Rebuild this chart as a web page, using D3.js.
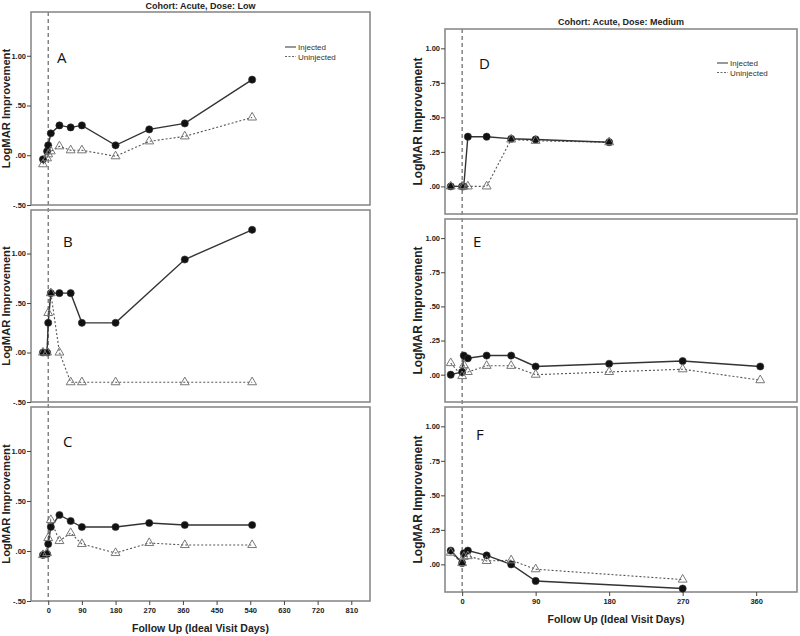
<!DOCTYPE html>
<html><head><meta charset="utf-8">
<script src="https://cdn.jsdelivr.net/npm/d3@7"></script>
<style>
body{margin:0;background:#fff;}
svg{display:block;font-family:"Liberation Sans",Arial,sans-serif;}
</style></head>
<body><svg id="c" width="800" height="636"></svg>
<script>
// ---- data ----
const daysLeft = [-14, -3, 0, 7, 30, 60, 90, 180, 270, 365, 545];
const daysRight = [-14, 0, 2, 7, 30, 60, 90, 180, 270, 365];

const injA = [-0.04, 0.04, 0.10, 0.22, 0.30, 0.28, 0.30, 0.10, 0.26, 0.32, 0.76];
const uninjA = [-0.09, -0.03, 0.01, 0.04, 0.09, 0.05, 0.05, -0.01, 0.14, 0.19, 0.38];
const injB = [0.00, 0.00, 0.30, 0.60, 0.60, 0.60, 0.30, 0.30, null, 0.94, 1.24];
const uninjB = [0.00, 0.00, 0.40, 0.60, 0.00, -0.30, -0.30, -0.30, null, -0.30, -0.30];
const injC = [-0.04, -0.03, 0.07, 0.24, 0.36, 0.30, 0.24, 0.24, 0.28, 0.26, 0.26];
const uninjC = [-0.04, -0.02, 0.13, 0.31, 0.10, 0.18, 0.07, -0.02, 0.08, 0.06, 0.06];

const injD = [0.00, 0.00, 0.00, 0.36, 0.36, 0.345, 0.34, 0.32, null, null];
const uninjD = [0.00, 0.00, 0.00, 0.00, 0.00, 0.34, 0.33, 0.32, null, null];
const injE = [0.00, 0.02, 0.14, 0.12, 0.14, 0.14, 0.06, 0.08, 0.10, 0.06];
const uninjE = [0.085, -0.01, 0.07, 0.02, 0.065, 0.065, 0.00, 0.02, 0.04, -0.04];
const injF = [0.10, 0.01, 0.08, 0.10, 0.065, 0.00, -0.12, null, -0.175, null];
const uninjF = [0.085, 0.01, 0.055, 0.06, 0.025, 0.03, -0.035, null, -0.11, null];

const leftYTicks = [-0.5, 0, 0.5, 1.0];
const rightYTicks = [0, 0.25, 0.5, 0.75, 1.0];
const leftXTicks = [0, 90, 180, 270, 360, 450, 540, 630, 720, 810];
const rightXTicks = [0, 90, 180, 270, 360];
const seriesNames = ["Injected", "Uninjected"];
const titles = ["Cohort: Acute, Dose: Low", "Cohort: Acute, Dose: Medium"];
const letters = ["A", "B", "C", "D", "E", "F"];

// ---- layout ----
const svg = d3.select("#c");
const fmt = v => {
  if (v === 0) return ".00";
  const s = Math.abs(v).toFixed(2).replace(/^0/, "");
  return (v < 0 ? "-" : "") + s;
};

const cols = [
  { x0: 31, x1: 370, xDomain: [-46, 860], yDomain: [-0.5, 1.44], yTicks: leftYTicks, xTicks: leftXTicks,
    days: daysLeft, panels: [[12, 205], [210, 402], [407, 601]],
    data: [[injA, uninjA], [injB, uninjB], [injC, uninjC]],
    title: titles[0], titleY: 9, labelX: 10, labelSize: 11.2, xLabelY: 632, xTickY: 614,
    legend: { x: 285, y: 47 }, letterPos: [[57, 63], [63, 247], [63, 447]] },
  { x0: 445, x1: 797, xDomain: [-21, 410], yDomain: [-0.2, 1.14], yTicks: rightYTicks, xTicks: rightXTicks,
    days: daysRight, panels: [[29, 214], [219, 402], [407, 592]],
    data: [[injD, uninjD], [injE, uninjE], [injF, uninjF]],
    title: titles[1], titleY: 25, labelX: 422, labelSize: 12, xLabelY: 623, xTickY: 605,
    legend: { x: 717, y: 63 }, letterPos: [[479, 69], [473, 247], [476, 440]] }
];

cols.forEach((col, ci) => {
  const x = d3.scaleLinear().domain(col.xDomain).range([col.x0, col.x1]);
  // title
  svg.append("text").attr("x", (col.x0 + col.x1) / 2).attr("y", col.titleY)
    .attr("text-anchor", "middle").attr("font-size", 9).attr("font-weight", "bold")
    .attr("fill", "#222").text(col.title);

  // vertical dashed line at day 0
  svg.append("line").attr("x1", x(0)).attr("x2", x(0))
    .attr("y1", col.panels[0][0]).attr("y2", col.panels[2][1])
    .attr("stroke", "#666").attr("stroke-width", 1.2).attr("stroke-dasharray", "4,3");

  col.panels.forEach((p, pi) => {
    const y = d3.scaleLinear().domain(col.yDomain).range([p[1], p[0]]);
    const g = svg.append("g");
    // frame
    g.append("rect").attr("x", col.x0).attr("y", p[0]).attr("width", col.x1 - col.x0)
      .attr("height", p[1] - p[0]).attr("fill", "none").attr("stroke", "#8a8a8a").attr("stroke-width", 1.6);
    // y axis
    const yAxis = d3.axisLeft(y).tickValues(col.yTicks).tickFormat(fmt).tickSize(4).tickPadding(1);
    const ya = g.append("g").attr("transform", `translate(${col.x0},0)`).call(yAxis);
    ya.select(".domain").remove();
    ya.selectAll("line").attr("stroke", "#444");
    ya.selectAll("text").attr("font-size", 7.5).attr("font-weight", "bold").attr("fill", "#222")
      .attr("font-family", "'Liberation Sans Narrow','Liberation Sans',Arial,sans-serif");
    // y label
    g.append("text").attr("transform", `translate(${col.labelX},${(p[0] + p[1]) / 2}) rotate(-90)`)
      .attr("text-anchor", "middle").attr("font-size", col.labelSize).attr("font-weight", "bold").attr("fill", "#222")
      .text("LogMAR Improvement");
    // x axis for last panel
    if (pi === 2) {
      const xAxis = d3.axisBottom(x).tickValues(col.xTicks).tickFormat(d3.format("d")).tickSize(4).tickPadding(3);
      const xa = g.append("g").attr("transform", `translate(0,${p[1]})`).call(xAxis);
      xa.select(".domain").remove();
      xa.selectAll("line").attr("stroke", "#444");
      xa.selectAll("text").attr("font-size", 7.5).attr("font-weight", "bold").attr("fill", "#222")
        .attr("font-family", "'Liberation Sans Narrow','Liberation Sans',Arial,sans-serif");
      svg.append("text").attr("x", (col.x0 + col.x1) / 2 + (ci === 0 ? 0 : -5)).attr("y", col.xLabelY)
        .attr("text-anchor", "middle").attr("font-size", 10.5).attr("font-weight", "bold").attr("fill", "#222")
        .text("Follow Up (Ideal Visit Days)");
    }
    // letter
    g.append("text").attr("x", col.letterPos[pi][0]).attr("y", col.letterPos[pi][1])
      .attr("font-size", 15).attr("font-family", "'Open Sans',sans-serif").attr("fill", "#111")
      .text(letters[ci * 3 + pi]);

    const [inj, uninj] = col.data[pi];
    const pts = arr => col.days.map((d, i) => ({ d, v: arr[i] })).filter(o => o.v !== null);
    const line = d3.line().x(o => x(o.d)).y(o => y(o.v));
    // uninjected line
    g.append("path").datum(pts(uninj)).attr("d", line).attr("fill", "none")
      .attr("stroke", "#555").attr("stroke-width", 1.1).attr("stroke-dasharray", "2,2");
    // injected line
    g.append("path").datum(pts(inj)).attr("d", line).attr("fill", "none")
      .attr("stroke", "#333").attr("stroke-width", 1.4);
    // injected markers
    g.selectAll(".ci").data(pts(inj)).join("circle")
      .attr("cx", o => x(o.d)).attr("cy", o => y(o.v)).attr("r", 3.6)
      .attr("fill", "#111").attr("stroke", "#333").attr("stroke-width", 0.6);
    // uninjected markers
    const tri = d3.symbol().type(d3.symbolTriangle).size(34);
    g.selectAll(".tu").data(pts(uninj)).join("path")
      .attr("transform", o => `translate(${x(o.d)},${y(o.v)})`).attr("d", tri)
      .attr("fill", "none").attr("stroke", "#777").attr("stroke-width", 1);
  });

  // legend
  const lg = svg.append("g");
  seriesNames.forEach((n, i) => {
    const yy = col.legend.y + i * 9.5;
    lg.append("line").attr("x1", col.legend.x).attr("x2", col.legend.x + 11)
      .attr("y1", yy).attr("y2", yy).attr("stroke", i === 0 ? "#333" : "#666")
      .attr("stroke-width", 1).attr("stroke-dasharray", i === 0 ? null : "2,1.5");
    lg.append("text").attr("x", col.legend.x + 13).attr("y", yy + 3)
      .attr("font-size", 8).attr("fill", "#333")
      .attr("font-family", "'Liberation Sans Narrow','Liberation Sans',Arial,sans-serif").text(n);
  });
});
</script></body></html>
